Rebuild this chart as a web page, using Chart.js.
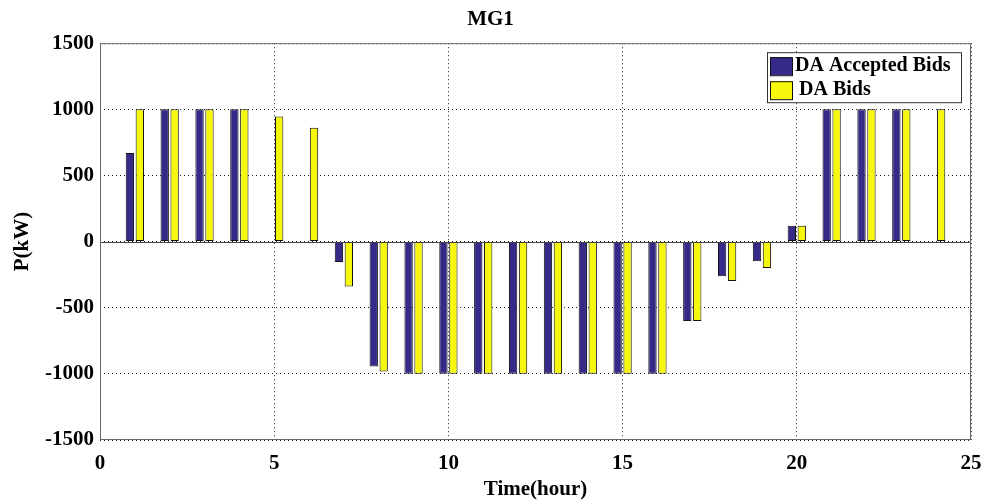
<!DOCTYPE html>
<html>
<head>
<meta charset="utf-8">
<script src="https://cdn.jsdelivr.net/npm/chart.js@4.4.0/dist/chart.umd.min.js"></script>
<style>
  html, body { margin: 0; padding: 0; background: #fff; }
  #wrap { width: 985px; height: 502px; }
</style>
</head>
<body>
<div id="wrap"><canvas id="c"></canvas></div>
<script>
// datos (kW por hora)
const hours = [1, 2, 3, 4, 5, 6, 7, 8, 9, 10, 11, 12, 13, 14, 15, 16, 17, 18, 19, 20, 21, 22, 23, 24];
const acceptedBids = [670, 1000, 1000, 1000, 0, 0, -155, -945, -1000, -1000, -1000, -1000, -1000, -1000, -1000, -1000, -600, -262, -148, 120, 1000, 1000, 1000, 0];
const daBids = [1000, 1000, 1000, 1000, 945, 860, -340, -983, -1000, -1000, -1000, -1000, -1000, -1000, -1000, -1000, -600, -298, -200, 120, 1000, 1000, 1000, 1000];
const seriesNames = ['DA Accepted Bids', 'DA Bids'];
const seriesColors = ['#352a87', '#f7f70d'];
const xTicks = [0, 5, 10, 15, 20, 25];
const yTicks = [-1500, -1000, -500, 0, 500, 1000, 1500];

const FONT = '"Liberation Serif", "Times New Roman", serif';

// caja del eje + linea del cero
const boxPlugin = {
    id: 'boxPlugin',
    afterDatasetsDraw(chart) {
        const { ctx, chartArea: a, scales } = chart;
        ctx.save();
        const y0 = Math.round(scales.y.getPixelForValue(0));
        ctx.strokeStyle = '#444';
        ctx.lineWidth = 1;
        ctx.beginPath();
        ctx.moveTo(a.left, y0 + 0.5);
        ctx.lineTo(a.right, y0 + 0.5);
        ctx.stroke();
        ctx.strokeStyle = '#666';
        ctx.strokeRect(a.left + 0.5, a.top + 0.5, a.right - a.left - 1, a.bottom - a.top - 1);
        ctx.restore();
    }
};

// leyenda dentro del area, arriba a la derecha
const legendBox = {
    id: 'legendBox',
    afterDraw(chart) {
        const { ctx, chartArea: a } = chart;
        const w = 194, h = 50;
        const x = a.right - 10 - w, y = a.top + 9;
        ctx.save();
        ctx.fillStyle = '#fff';
        ctx.fillRect(x, y, w, h);
        ctx.strokeStyle = '#333';
        ctx.lineWidth = 1;
        ctx.strokeRect(x + 0.5, y + 0.5, w, h);
        ctx.font = 'bold 20px ' + FONT;
        ctx.textBaseline = 'middle';
        seriesNames.forEach((name, i) => {
            const cy = y + 13 + i * 24;
            ctx.fillStyle = seriesColors[i];
            ctx.fillRect(x + 3, cy - 8, 22, 18);
            ctx.strokeStyle = '#111';
            ctx.strokeRect(x + 3.5, cy - 7.5, 22, 18);
            ctx.fillStyle = '#000';
            ctx.fillText(name, x + (i === 0 ? 28 : 32), cy + 1);
        });
        ctx.restore();
    }
};

const makeData = (vals) => hours.map((h, i) => ({ x: h, y: vals[i] }));

new Chart(document.getElementById('c'), {
    type: 'bar',
    data: {
        datasets: [
            {
                label: seriesNames[0],
                data: makeData(acceptedBids),
                backgroundColor: seriesColors[0],
                borderColor: '#111',
                borderWidth: 1,
                borderSkipped: false,
                categoryPercentage: 0.57,
                barPercentage: 0.84
            },
            {
                label: seriesNames[1],
                data: makeData(daBids),
                backgroundColor: seriesColors[1],
                borderColor: '#111',
                borderWidth: 1,
                borderSkipped: false,
                categoryPercentage: 0.57,
                barPercentage: 0.84
            }
        ]
    },
    options: {
        responsive: true,
        maintainAspectRatio: false,
        animation: false,
        layout: { padding: { left: 10, right: 14, top: 0, bottom: 0 } },
        plugins: {
            legend: { display: false },
            tooltip: { enabled: false },
            title: {
                display: true,
                text: 'MG1',
                color: '#000',
                font: { family: FONT, size: 21, weight: 'bold' },
                padding: { top: 7, bottom: 11 }
            }
        },
        scales: {
            x: {
                type: 'linear',
                min: 0,
                max: 25,
                offset: false,
                afterFit: (s) => { s.height = 62; s.paddingRight = 0; s.paddingLeft = 0; },
                afterBuildTicks: (s) => { s.ticks = xTicks.map(v => ({ value: v })); },
                grid: { color: '#222', offset: false, drawTicks: false, lineWidth: 1 },
                border: { display: false, dash: [1, 3] },
                ticks: {
                    color: '#000',
                    padding: 11,
                    callback: (v) => String(v),
                    font: { family: FONT, size: 21, weight: 'bold' }
                },
                title: {
                    display: true,
                    text: 'Time(hour)',
                    color: '#000',
                    font: { family: FONT, size: 21, weight: 'bold' },
                    padding: { top: 0, bottom: 0 }
                }
            },
            y: {
                min: -1500,
                max: 1500,
                afterFit: (s) => { s.width = 90; },
                afterBuildTicks: (s) => { s.ticks = yTicks.map(v => ({ value: v })); },
                grid: { color: '#222', drawTicks: false, lineWidth: 1 },
                border: { display: false, dash: [1, 3] },
                ticks: {
                    color: '#000',
                    padding: 6,
                    callback: (v) => String(v),
                    font: { family: FONT, size: 21, weight: 'bold' }
                },
                title: {
                    display: true,
                    text: 'P(kW)',
                    color: '#000',
                    font: { family: FONT, size: 21, weight: 'bold' },
                    padding: { top: 0, bottom: 0 }
                }
            }
        }
    },
    plugins: [boxPlugin, legendBox]
});
</script>
</body>
</html>
